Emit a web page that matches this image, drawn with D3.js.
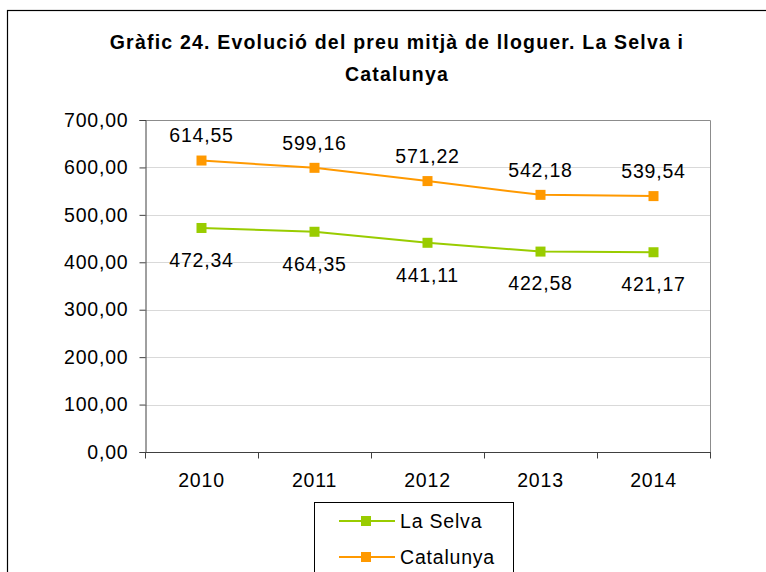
<!DOCTYPE html>
<html lang="ca">
<head>
<meta charset="utf-8">
<title>Gràfic 24</title>
<style>
body { margin: 0; background: #fff; }
* { font-family: "Liberation Sans", Arial, sans-serif; }
.lbl { font-size: 19.5px; letter-spacing: 0.8px; fill: #000; }
</style>
<script src="https://cdn.jsdelivr.net/npm/d3@7"></script>
</head>
<body>
<div id="chart"></div>
<script>
// values
var years = ["2010", "2011", "2012", "2013", "2014"];
var laSelva = [472.34, 464.35, 441.11, 422.58, 421.17];
var catalunya = [614.55, 599.16, 571.22, 542.18, 539.54];
var yTicks = [0, 100, 200, 300, 400, 500, 600, 700];
var seriesNames = ["La Selva", "Catalunya"];
var seriesColors = ["#99cc00", "#ff9900"];

var W = 766, H = 572;
var plot = {left: 145, top: 120, right: 710, bottom: 452};
var fmt = function(d) { return d3.format(".2f")(d).replace(".", ","); };

var svg = d3.select("#chart").append("svg")
    .attr("width", W)
    .attr("height", H);

// outer frame (runs past the picture at right and bottom)
svg.append("rect")
    .attr("x", 7.5).attr("y", 10.5)
    .attr("width", 820).attr("height", 640)
    .style("fill", "#fff")
    .style("stroke", "#000")
    .style("stroke-width", 1.2);

// title
var title = svg.append("text")
    .attr("text-anchor", "middle")
    .style("font-size", "19.5px")
    .style("font-weight", "bold")
    .style("letter-spacing", "1.2px");
title.append("tspan").attr("x", 397).attr("y", 49)
    .text("Gràfic 24. Evolució del preu mitjà de lloguer. La Selva i");
title.append("tspan").attr("x", 397).attr("y", 81)
    .text("Catalunya");

var x = d3.scaleBand().domain(years).range([plot.left, plot.right]);
var y = d3.scaleLinear().domain([0, 700]).range([plot.bottom, plot.top]);

// gridlines
svg.append("g").selectAll("line")
    .data(yTicks.filter(function(d) { return d > 0; }))
    .enter().append("line")
        .attr("x1", plot.left).attr("x2", plot.right)
        .attr("y1", function(d) { return Math.round(y(d)) + 0.5; })
        .attr("y2", function(d) { return Math.round(y(d)) + 0.5; })
        .style("stroke", "#d9d9d9");

// plot border top / right
svg.append("path")
    .attr("d", "M" + plot.left + "," + (plot.top + 0.5) + "H" + (plot.right + 0.5) + "V" + plot.bottom)
    .style("fill", "none")
    .style("stroke", "#8c8c8c");

// y axis
var yAxis = svg.append("g")
    .attr("transform", "translate(" + (plot.left + 0.5) + ",0)")
    .call(d3.axisLeft(y).tickValues(yTicks).tickSize(6).tickPadding(11).tickFormat(fmt));
yAxis.attr("font-family", null).attr("font-size", null);
yAxis.select(".domain").style("stroke", "#404040");
yAxis.selectAll(".tick line").style("stroke", "#404040");
yAxis.selectAll(".tick text").attr("class", "lbl");

// x axis, ticks between categories
var xAxis = svg.append("g")
    .attr("transform", "translate(0," + (plot.bottom + 0.5) + ")");
xAxis.append("line")
    .attr("x1", plot.left).attr("x2", plot.right + 1)
    .style("stroke", "#404040");
xAxis.selectAll("line.tk")
    .data(years.concat(["end"]))
    .enter().append("line")
        .attr("class", "tk")
        .attr("x1", function(d, i) { return Math.round(plot.left + i * x.bandwidth()) + 0.5; })
        .attr("x2", function(d, i) { return Math.round(plot.left + i * x.bandwidth()) + 0.5; })
        .attr("y1", 0).attr("y2", 6)
        .style("stroke", "#404040");
xAxis.selectAll("text")
    .data(years)
    .enter().append("text")
        .attr("class", "lbl")
        .attr("x", function(d) { return x(d) + x.bandwidth() / 2; })
        .attr("y", 28)
        .attr("dy", "0.35em")
        .attr("text-anchor", "middle")
        .text(function(d) { return d; });

var series = [laSelva, catalunya];
var line = d3.line()
    .x(function(d, i) { return x(years[i]) + x.bandwidth() / 2; })
    .y(function(d) { return y(d); });

series.forEach(function(vals, s) {
    var g = svg.append("g");
    g.append("path")
        .attr("d", line(vals))
        .style("fill", "none")
        .style("stroke", seriesColors[s])
        .style("stroke-width", 2);
    g.selectAll("rect")
        .data(vals)
        .enter().append("rect")
            .attr("x", function(d, i) { return x(years[i]) + x.bandwidth() / 2 - 5; })
            .attr("y", function(d) { return y(d) - 5; })
            .attr("width", 10).attr("height", 10)
            .style("fill", seriesColors[s]);
    g.selectAll("text")
        .data(vals)
        .enter().append("text")
            .attr("class", "lbl")
            .attr("x", function(d, i) { return x(years[i]) + x.bandwidth() / 2; })
            .attr("y", function(d) { return s === 0 ? y(d) + 32 : y(d) - 25; })
            .attr("dy", "0.35em")
            .attr("text-anchor", "middle")
            .text(fmt);
});

// legend
var leg = svg.append("g");
leg.append("rect")
    .attr("x", 314.5).attr("y", 502.5)
    .attr("width", 199).attr("height", 90)
    .style("fill", "#fff")
    .style("stroke", "#000");
seriesNames.forEach(function(name, i) {
    var cy = 521 + i * 36;
    leg.append("line")
        .attr("x1", 339).attr("x2", 395)
        .attr("y1", cy).attr("y2", cy)
        .style("stroke", seriesColors[i])
        .style("stroke-width", 2);
    leg.append("rect")
        .attr("x", 361).attr("y", cy - 5)
        .attr("width", 10).attr("height", 10)
        .style("fill", seriesColors[i]);
    leg.append("text")
        .attr("class", "lbl")
        .attr("x", 400).attr("y", cy)
        .attr("dy", "0.35em")
        .text(name);
});
</script>
</body>
</html>
